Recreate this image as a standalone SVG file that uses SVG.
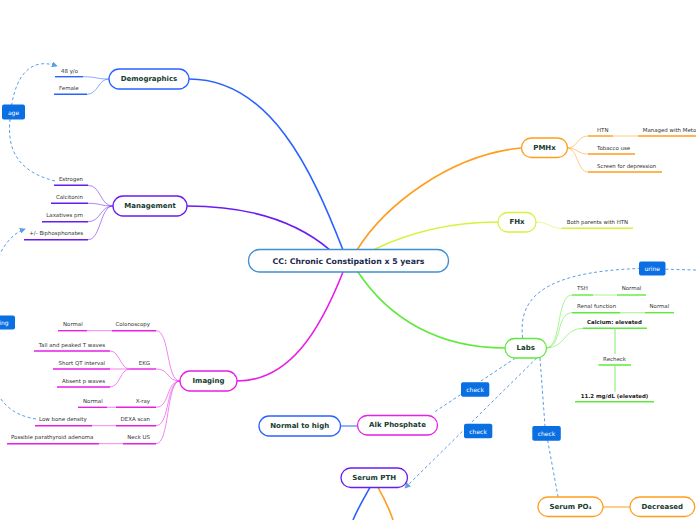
<svg xmlns="http://www.w3.org/2000/svg" width="696" height="520" viewBox="0 0 696 520">
<defs>
<style>
.bg{fill:#fff}
.node{fill:#fff;stroke-width:1.3}
.nt{font-family:"DejaVu Sans",Verdana,sans-serif;font-weight:bold;font-size:7px;fill:#163a30;text-anchor:middle;dominant-baseline:central}
.ct{font-family:"DejaVu Sans",Verdana,sans-serif;font-weight:bold;font-size:7.8px;fill:#1b2a4e;text-anchor:middle;dominant-baseline:central}
.lt{font-family:"DejaVu Sans",Verdana,sans-serif;font-size:5.45px;fill:#333}
.lb{font-family:"DejaVu Sans",Verdana,sans-serif;font-size:5.45px;font-weight:bold;fill:#222}
.end{text-anchor:end}
.mid{text-anchor:middle}
.tag{fill:#0a6fe3}
.tt{font-family:"DejaVu Sans",Verdana,sans-serif;font-size:6px;fill:#fff;text-anchor:middle;dominant-baseline:central}
.br{fill:none;stroke-width:1.6}
.lc{fill:none;stroke-width:0.9;opacity:0.6}
.ul{stroke-width:1.4}
.dash{fill:none;stroke:#5b9de6;stroke-width:1;stroke-dasharray:3 2.5}
.blue{stroke:#2962ff}
.purple{stroke:#6a1bf0}
.mag{stroke:#e61ee6}
.orange{stroke:#ff9d1c}
.yg{stroke:#d6f23a}
.green{stroke:#5eea3a}
</style>
<marker id="arr" viewBox="0 0 8 8" refX="7" refY="4" markerWidth="6" markerHeight="6" orient="auto" markerUnits="userSpaceOnUse">
<path d="M0,0 L8,4 L0,8 z" fill="#5b9de6"/>
</marker>
</defs>
<rect class="bg" x="0" y="0" width="696" height="520"/>

<g id="connectors">
<path class="br blue" d="M343,250 C 312,170 270,79 189,79"/>
<path class="br purple" d="M330,250 C 295,220 245,206 187,206"/>
<path class="br mag" d="M343,272 C 320,330 290,381 237,381"/>
<path class="br orange" d="M357,250 C 385,205 450,155 521,148"/>
<path class="br yg" d="M373,250 C 410,232 450,222 498,222"/>
<path class="br green" d="M358,272 C 390,320 440,348 505,348"/>
<path class="lc blue" d="M109,79 C 96,79 96,76.7 83,76.7"/>
<path class="lc blue" d="M109,79 C 98,79 98,94.3 87,94.3"/>
<path class="lc purple" d="M113,206 C 100,206 101,185.3 88,185.3"/>
<path class="lc purple" d="M113,206 C 100,206 101,203.3 88,203.3"/>
<path class="lc purple" d="M113,206 C 100,206 101,221.7 88,221.7"/>
<path class="lc purple" d="M113,206 C 100,206 101,239.7 88,239.7"/>
<path class="lc mag" d="M180,381 C 166,381 170,330.7 156,330.7"/>
<path class="lc mag" d="M180,381 C 166,381 170,369 156,369"/>
<path class="lc mag" d="M180,381 C 166,381 170,407.3 156,407.3"/>
<path class="lc mag" d="M180,381 C 166,381 170,425.7 156,425.7"/>
<path class="lc mag" d="M180,381 C 166,381 170,443.7 156,443.7"/>
<path class="lc mag" d="M130,369 C 120,369 120,351 110,351"/>
<path class="lc mag" d="M130,369 L110,369"/>
<path class="lc mag" d="M130,369 C 120,369 120,387 110,387"/>
<path class="lc mag" d="M112,330.7 L87,330.7"/>
<path class="lc mag" d="M116,407.3 L107,407.3"/>
<path class="lc mag" d="M116,425.7 L92,425.7"/>
<path class="lc mag" d="M123,443.7 L99,443.7"/>
<path class="lc orange" d="M567,148 C 578,148 577,136 588,136"/>
<path class="lc orange" d="M567,148 C 578,148 577,154 588,154"/>
<path class="lc orange" d="M567,148 C 578,148 577,172 588,172"/>
<path class="lc orange" d="M613,136 L638,136"/>
<path class="lc yg" d="M536,222 C 549,222 549,228.3 562,228.3"/>
<path class="lc green" d="M546,348 C 562,348 556,295 572,295"/>
<path class="lc green" d="M546,348 C 562,348 556,312.7 572,312.7"/>
<path class="lc green" d="M546,348 C 566,348 563,328.3 583,328.3"/>
<path class="lc green" d="M593,295 L617,295"/>
<path class="lc green" d="M620,312.7 L645,312.7"/>
<path class="lc green" d="M615,329 L615,354" style="opacity:0.9"/>
<path class="lc green" d="M615,366 L615,391.7" style="opacity:0.9"/>
<path class="br blue" style="stroke-width:1" d="M340.7,426 L357,426"/>
<path class="br orange" style="stroke-width:1" d="M603,507 L630,507"/>
<path class="br blue" d="M370,487.3 C 364,498 358,508 353,520"/>
<path class="br orange" d="M378,487.3 C 384,498 389,508 393,520"/>
<path class="dash" d="M55,181 C 10,170 8,140 10,120 C 12,85 25,55 57,66" marker-end="url(#arr)"/>
<path class="dash" d="M36,419 C 10,415 -2,400 -8,380 L-8,280 C -4,255 8,235 25,229" marker-end="url(#arr)"/>
<path class="dash" d="M522.7,338 C 518,300 540,272 639,268.5 L696,270"/>
<path class="dash" d="M520,355 L433,413"/>
<path class="dash" d="M536.7,358 L405,488" marker-end="url(#arr)"/>
<path class="dash" d="M540,358 L545,426 L558,496.7"/>
</g>

<g id="central">
<rect class="node" x="248.5" y="249.5" width="200" height="22.5" rx="11" style="stroke:#3e8fd6"/>
<text class="ct" x="348.5" y="261">CC: Chronic Constipation x 5 years</text>
</g>

<g id="demographics">
<rect class="node blue" x="109" y="69" width="80" height="20" rx="10"/>
<text class="nt" x="149" y="79">Demographics</text>
<line class="ul blue" x1="55" y1="76.7" x2="83" y2="76.7"/>
<text class="lt" x="61" y="72.5">48 y/o</text>
<line class="ul blue" x1="54" y1="94.3" x2="87" y2="94.3"/>
<text class="lt" x="59" y="90">Female</text>
</g>

<g id="age">
<rect class="tag" x="2" y="104.5" width="23" height="15" rx="2"/>
<text class="tt" x="13.5" y="112">age</text>
</g>

<g id="management">
<rect class="node purple" x="113" y="196" width="74" height="20" rx="10"/>
<text class="nt" x="150" y="206">Management</text>
<line class="ul purple" x1="54" y1="185.3" x2="88" y2="185.3"/>
<text class="lt end" x="83" y="181">Estrogen</text>
<line class="ul purple" x1="51" y1="203.3" x2="88" y2="203.3"/>
<text class="lt end" x="83" y="199">Calcitonin</text>
<line class="ul purple" x1="42" y1="221.7" x2="88" y2="221.7"/>
<text class="lt end" x="83" y="217">Laxatives prn</text>
<line class="ul purple" x1="24" y1="239.7" x2="88" y2="239.7"/>
<text class="lt end" x="83" y="235">+/- Biphosphonates</text>
</g>

<g id="ing">
<rect class="tag" x="-30" y="315.5" width="45" height="14" rx="2"/>
<text class="tt" x="4" y="322.5">ing</text>
</g>

<g id="imaging">
<rect class="node mag" x="180" y="371" width="57" height="20" rx="10"/>
<text class="nt" x="208.5" y="381">Imaging</text>
<line class="ul mag" x1="112" y1="330.7" x2="156" y2="330.7"/>
<text class="lt end" x="150" y="326">Colonoscopy</text>
<line class="ul mag" x1="58" y1="330.7" x2="87" y2="330.7"/>
<text class="lt" x="63" y="326">Normal</text>
<line class="ul mag" x1="130" y1="369" x2="156" y2="369"/>
<text class="lt end" x="150" y="364.7">EKG</text>
<line class="ul mag" x1="34" y1="351" x2="110" y2="351"/>
<text class="lt end" x="105" y="346.7">Tall and peaked T waves</text>
<line class="ul mag" x1="53" y1="369" x2="110" y2="369"/>
<text class="lt end" x="105" y="364.7">Short QT interval</text>
<line class="ul mag" x1="57" y1="387" x2="110" y2="387"/>
<text class="lt end" x="105" y="382.7">Absent p waves</text>
<line class="ul mag" x1="116" y1="407.3" x2="156" y2="407.3"/>
<text class="lt end" x="150" y="403">X-ray</text>
<line class="ul mag" x1="78" y1="407.3" x2="107" y2="407.3"/>
<text class="lt" x="83" y="403">Normal</text>
<line class="ul mag" x1="116" y1="425.7" x2="156" y2="425.7"/>
<text class="lt end" x="150" y="421">DEXA scan</text>
<line class="ul mag" x1="35" y1="425.7" x2="92" y2="425.7"/>
<text class="lt" x="39" y="421">Low bone density</text>
<line class="ul mag" x1="123" y1="443.7" x2="156" y2="443.7"/>
<text class="lt end" x="150" y="439">Neck US</text>
<line class="ul mag" x1="7" y1="443.7" x2="99" y2="443.7"/>
<text class="lt" x="11" y="439">Possible parathyroid adenoma</text>
</g>

<g id="pmhx">
<rect class="node orange" x="521.5" y="138" width="46" height="19.5" rx="9.7"/>
<text class="nt" x="544.5" y="148">PMHx</text>
<line class="ul orange" x1="588" y1="136" x2="613" y2="136"/>
<text class="lt" x="597" y="132">HTN</text>
<line class="ul orange" x1="638" y1="136" x2="696" y2="136"/>
<text class="lt" x="642.7" y="132">Managed with Metoprolol</text>
<line class="ul orange" x1="588" y1="154" x2="635" y2="154"/>
<text class="lt" x="597" y="150">Tobacco use</text>
<line class="ul orange" x1="588" y1="172" x2="662" y2="172"/>
<text class="lt" x="597" y="168">Screen for depression</text>
</g>

<g id="fhx">
<rect class="node yg" x="498" y="212.5" width="38" height="19.5" rx="9.7"/>
<text class="nt" x="517" y="222.3">FHx</text>
<line class="ul yg" x1="562" y1="228.3" x2="633" y2="228.3"/>
<text class="lt" x="566.7" y="223.8">Both parents with HTN</text>
</g>

<g id="labs">
<rect class="node green" x="505" y="338.5" width="41.5" height="19.5" rx="9.7"/>
<text class="nt" x="525.8" y="348.3">Labs</text>
<line class="ul green" x1="572" y1="295" x2="593" y2="295"/>
<text class="lt" x="577" y="290">TSH</text>
<line class="ul green" x1="617" y1="295" x2="646" y2="295"/>
<text class="lt" x="621.7" y="290">Normal</text>
<line class="ul green" x1="572" y1="312.7" x2="620" y2="312.7"/>
<text class="lt" x="577" y="308">Renal function</text>
<line class="ul green" x1="645" y1="312.7" x2="674" y2="312.7"/>
<text class="lt" x="649.5" y="308">Normal</text>
<line class="ul green" x1="583" y1="328.3" x2="647" y2="328.3"/>
<text class="lb mid" x="614.5" y="324">Calcium: elevated</text>
<line class="ul green" x1="598.5" y1="365" x2="631" y2="365"/>
<text class="lt mid" x="614.5" y="361">Recheck</text>
<line class="ul green" x1="575" y1="401.7" x2="654" y2="401.7"/>
<text class="lb mid" x="614.5" y="397.7">11.2 mg/dL (elevated)</text>
</g>

<g id="urine">
<rect class="tag" x="639" y="261.5" width="26.5" height="14" rx="2"/>
<text class="tt" x="652.2" y="268.5">urine</text>
</g>

<g id="check1">
<rect class="tag" x="461" y="382.3" width="28.3" height="14.4" rx="2"/>
<text class="tt" x="475.1" y="389.5">check</text>
</g>
<g id="check2">
<rect class="tag" x="464" y="423.7" width="28.3" height="14.6" rx="2"/>
<text class="tt" x="478.1" y="431">check</text>
</g>
<g id="check3">
<rect class="tag" x="532.3" y="426" width="28.5" height="14.7" rx="2"/>
<text class="tt" x="546.5" y="433.3">check</text>
</g>

<g id="alk">
<rect class="node mag" x="357.5" y="415.5" width="80" height="19.5" rx="9.7"/>
<text class="nt" x="397.5" y="425.3">Alk Phosphate</text>
</g>
<g id="normalhigh">
<rect class="node blue" x="259" y="416" width="81.5" height="20" rx="10"/>
<text class="nt" x="299.7" y="426">Normal to high</text>
</g>
<g id="pth">
<rect class="node purple" x="341" y="468" width="66.5" height="19.5" rx="9.7"/>
<text class="nt" x="374.2" y="477.8">Serum PTH</text>
</g>
<g id="po4">
<rect class="node orange" x="538" y="497" width="65" height="19.5" rx="9.7"/>
<text class="nt" x="570.5" y="506.8">Serum PO₄</text>
</g>
<g id="decreased">
<rect class="node orange" x="630" y="497" width="64.7" height="19.5" rx="9.7"/>
<text class="nt" x="662.3" y="506.8">Decreased</text>
</g>
</svg>
